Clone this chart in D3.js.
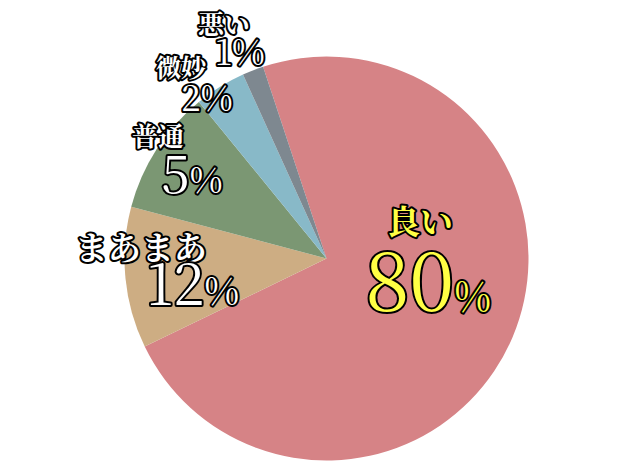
<!DOCTYPE html>
<html lang="ja">
<head>
<meta charset="utf-8">
<script src="https://cdn.jsdelivr.net/npm/d3@7"></script>
<style>
  html, body { margin: 0; padding: 0; background: #fff; }
  svg { display: block; }
  .name { font-family: "Noto Serif CJK JP", serif; font-weight: 700; }
  .pct { font-family: "Noto Serif CJK JP", serif; }
  .name, .pct { paint-order: stroke; stroke: #000; stroke-linejoin: round; }
</style>
</head>
<body>
<svg id="chart" width="640" height="472"></svg>
<script>
// slice order runs clockwise, starting from the top-left edge of the red slice
const categories = ['良い', 'まあまあ', '普通', '微妙', '悪い'];
const sliceValues = [72.9, 11.3, 10.0, 4.1, 1.7];   // angular share as drawn
const pctLabels = ['80', '12', '5', '2', '1'];       // printed percentages
const colors = ['#d68386', '#cdad83', '#7b9773', '#88b9c8', '#7e8890'];

// label layout: name centre, percent centre x / baseline, font sizes
const labelLayout = [
  { nx: 420, ny: 219, ns: 33, px: 428, py: 311, ds: 80, ps: 40, fill: '#ffff44' },
  { nx: 141, ny: 245, ns: 33, px: 193, py: 305, ds: 56, ps: 38, fill: '#fff' },
  { nx: 158, ny: 134, ns: 26, px: 192, py: 193, ds: 51, ps: 36, fill: '#fff' },
  { nx: 181, ny: 66,  ns: 25, px: 207, py: 111, ds: 35, ps: 35, fill: '#fff' },
  { nx: 224, ny: 22,  ns: 26, px: 240, py: 65,  ds: 36, ps: 36, fill: '#fff' }
];

const cx = 326.5, cy = 258.5, radius = 202;
const start = -18.3 * Math.PI / 180;

const svg = d3.select('#chart');
const g = svg.append('g').attr('transform', `translate(${cx},${cy})`);

const pie = d3.pie()
    .sort(null)
    .startAngle(start)
    .endAngle(start + 2 * Math.PI)
    .value(d => d);

const arc = d3.arc().innerRadius(0).outerRadius(radius);

g.selectAll('path.slice')
    .data(pie(sliceValues))
    .enter()
    .append('path')
    .attr('class', 'slice')
    .attr('d', arc)
    .attr('fill', (d, i) => colors[i]);

const labels = svg.selectAll('g.label')
    .data(categories.map((c, i) => ({ name: c, pct: pctLabels[i], lay: labelLayout[i] })))
    .enter()
    .append('g')
    .attr('class', 'label');

labels.append('text')
    .attr('class', 'name')
    .attr('x', d => d.lay.nx)
    .attr('y', d => d.lay.ny)
    .attr('text-anchor', 'middle')
    .attr('dominant-baseline', 'central')
    .attr('font-size', d => d.lay.ns)
    .attr('fill', d => d.lay.fill)
    .attr('stroke-width', 4)
    .text(d => d.name);

const pct = labels.append('text')
    .attr('class', 'pct')
    .attr('x', d => d.lay.px)
    .attr('y', d => d.lay.py)
    .attr('text-anchor', 'middle')
    .attr('fill', d => d.lay.fill)
    .attr('stroke-width', 4);

pct.append('tspan')
    .attr('font-size', d => d.lay.ds)
    .text(d => d.pct);

pct.append('tspan')
    .attr('font-size', d => d.lay.ps)
    .text('%');
</script>
</body>
</html>
